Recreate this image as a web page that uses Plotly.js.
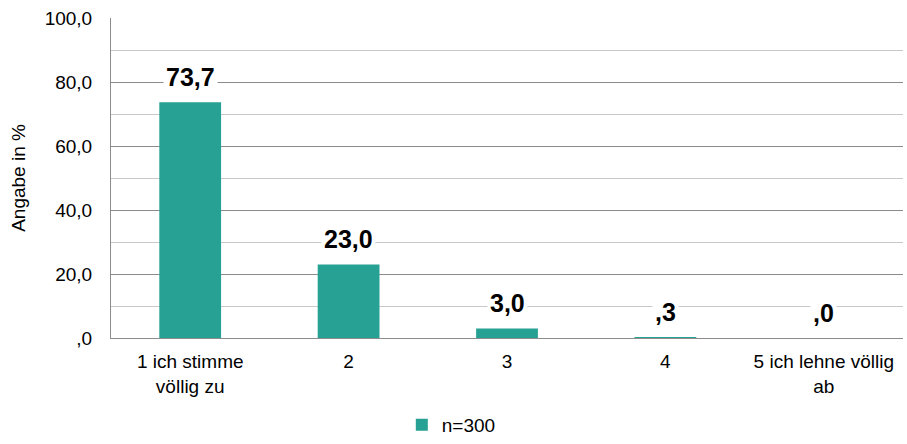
<!DOCTYPE html>
<html>
<head>
<meta charset="utf-8">
<script src="https://cdn.plot.ly/plotly-3.0.1.min.js"></script>
<style>html,body{margin:0;padding:0;background:#fff;}#chart{width:907px;height:444px;}</style>
</head>
<body>
<div id="chart"></div>
<script>
const categories = ["1 ich stimme<br>völlig zu", "2", "3", "4", "5 ich lehne völlig<br>ab"];
const values = [73.7, 23.0, 3.0, 0.3, 0.0];
const valueLabels = ["73,7", "23,0", "3,0", ",3", ",0"];
const tickVals = [0, 20, 40, 60, 80, 100];
const tickText = [",0", "20,0", "40,0", "60,0", "80,0", "100,0"];
const seriesName = "n=300";

const barColor = "#26A193";
const font = "Liberation Sans, Arial, sans-serif";

const trace = {
  type: "bar",
  x: categories,
  y: values,
  name: seriesName,
  marker: {color: barColor},
  showlegend: true,
  hoverinfo: "none"
};

const annotations = categories.map((c, i) => ({
  x: i, y: values[i], xref: "x", yref: "y",
  text: "<b>" + valueLabels[i] + "</b>",
  showarrow: false,
  yanchor: "bottom",
  yshift: 8,
  bgcolor: "#ffffff",
  borderpad: 2,
  font: {family: font, size: 25, color: "#000"}
}));

const layout = {
  width: 907, height: 444,
  margin: {l: 111, r: 4, t: 18, b: 106},
  paper_bgcolor: "#fff",
  plot_bgcolor: "#fff",
  bargap: 0.61,
  font: {family: font, size: 19, color: "#000"},
  xaxis: {
    type: "category",
    automargin: false,
    showgrid: false,
    showline: true,
    linecolor: "#8c8c8c",
    linewidth: 1,
    ticks: "",
    ticklabelstandoff: 6,
    tickfont: {family: font, size: 19, color: "#000"},
    zeroline: false
  },
  yaxis: {
    range: [0, 100],
    automargin: false,
    tickvals: tickVals,
    ticktext: tickText,
    showgrid: true,
    gridcolor: "#8c8c8c",
    gridwidth: 1,
    minor: {dtick: 10, tick0: 0, showgrid: true, gridcolor: "#c8c8c8", gridwidth: 1},
    showline: true,
    linecolor: "#8c8c8c",
    linewidth: 1,
    ticks: "",
    ticklabelstandoff: 14,
    zeroline: false,
    tickfont: {family: font, size: 19, color: "#000"},
    title: {text: "Angabe in %", font: {family: font, size: 19, color: "#000"}, standoff: 14}
  },
  legend: {
    orientation: "h",
    xref: "container", x: 0.443, xanchor: "left",
    yref: "container", y: 0.0, yanchor: "bottom",
    font: {family: font, size: 19, color: "#000"},
    itemwidth: 30
  },
  annotations: annotations,
  showlegend: true
};

Plotly.newPlot("chart", [trace], layout, {displayModeBar: false, staticPlot: true});
</script>
</body>
</html>
